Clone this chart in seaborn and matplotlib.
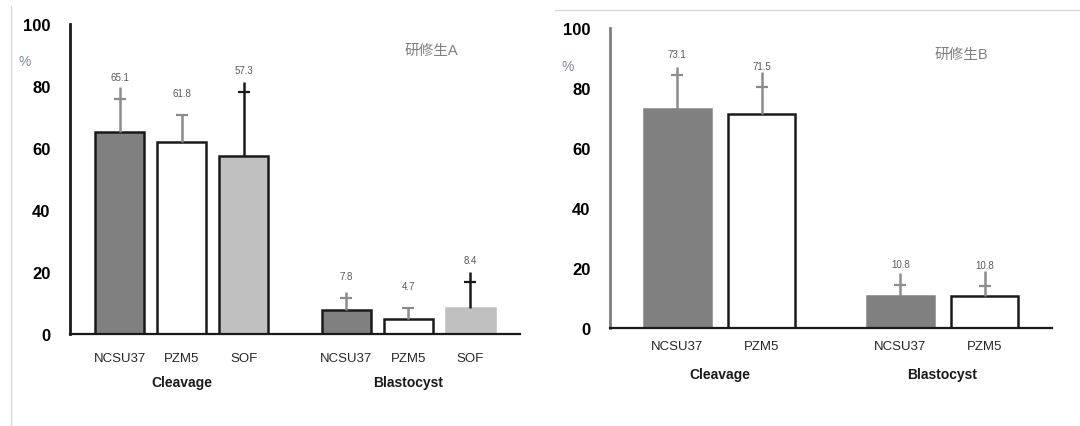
import numpy as np
import pandas as pd
import matplotlib
matplotlib.use("Agg")
import matplotlib.pyplot as plt
import matplotlib.transforms as mtransforms
from matplotlib.lines import Line2D
import seaborn as sns

# ---- data ----
stages_a = ["Cleavage", "Cleavage", "Cleavage", "Blastocyst", "Blastocyst", "Blastocyst"]
media_a = ["NCSU37", "PZM5", "SOF", "NCSU37", "PZM5", "SOF"]
mean_a = [65.1, 61.8, 57.3, 7.8, 4.7, 8.4]
labels_a = ["65.1", "61.8", "57.3", "7.8", "4.7", "8.4"]
cap_a = [75.8, 70.6, 78.0, 11.6, 8.4, 16.8]
top_a = [79.7, 70.6, 81.3, 13.5, 8.4, 20.0]

stages_b = ["Cleavage", "Cleavage", "Blastocyst", "Blastocyst"]
media_b = ["NCSU37", "PZM5", "NCSU37", "PZM5"]
mean_b = [73.1, 71.5, 10.8, 10.8]
labels_b = ["73.1", "71.5", "10.8", "10.8"]
cap_b = [84.3, 80.3, 14.3, 14.0]
top_b = [87.0, 85.3, 18.3, 19.0]

fill = {"NCSU37": "#808080", "PZM5": "#ffffff", "SOF": "#c0c0c0"}

sns.set_style("white")
plt.rcParams["font.family"] = ["Liberation Sans", "Noto Sans CJK JP", "DejaVu Sans"]


def draw_panel(ax, stages, media, means, labels, caps, tops, edges, err_colors, spine_color,
               xpad, title, title_xy, pct_xy, fig):
    n = len(dict.fromkeys(media))
    group_idx = pd.Series(stages).factorize()[0]
    med_idx = [list(dict.fromkeys(media)).index(m) for m in media]
    pos = [g * (n + 0.65) + i for g, i in zip(group_idx, med_idx)]
    df = pd.DataFrame({"pos": pos, "medium": media, "stage": stages, "mean": means})

    sns.barplot(data=df, x="pos", y="mean", native_scale=True, color="#808080",
                width=0.79, errorbar=None, ax=ax, linewidth=1.8, saturation=1)
    bars = sorted(ax.patches, key=lambda p: p.get_x())
    for bar, m, e in zip(bars, media, edges):
        bar.set_facecolor(fill[m])
        bar.set_edgecolor("#1a1a1a" if e else fill[m])

    for x, mu, c, t, col, lab in zip(pos, means, caps, tops, err_colors, labels):
        ax.plot([x, x], [mu, t], color=col, lw=1.8, solid_capstyle="butt", zorder=3)
        ax.plot([x], [c], marker="_", ms=9, mew=1.6, color=col, zorder=3)
        ax.text(x, c + 7, lab, ha="center", va="center", fontsize=7, color="#595959")

    ax.set_xlim(min(pos) - 0.8, max(pos) + 0.8)
    ax.set_ylim(0, 100)
    ax.set_yticks(range(0, 101, 20))
    ax.set_xticks(pos)
    ax.set_xticklabels(media, fontsize=9.5, color="#262626")
    ax.tick_params(axis="x", length=0, pad=xpad)
    ax.tick_params(axis="y", length=6, width=1.2, direction="out", pad=8, color=spine_color)
    for t in ax.get_yticklabels():
        t.set_fontweight("bold")
        t.set_fontsize(12)
        t.set_color("#000000")
    ax.set_xlabel("")
    ax.set_ylabel("")
    sns.despine(ax=ax)
    ax.spines["left"].set_color(spine_color)
    ax.spines["left"].set_linewidth(2)
    ax.spines["bottom"].set_color("#1a1a1a")
    ax.spines["bottom"].set_linewidth(1.6)

    trans = mtransforms.blended_transform_factory(ax.transData, ax.transAxes)
    for g in df["stage"].unique():
        xs = df.loc[df["stage"] == g, "pos"]
        ax.text(xs.mean(), -0.155, g, transform=trans, ha="center", va="center",
                fontsize=10, fontweight="bold", color="#1a1a1a")

    fig.text(title_xy[0] / 1080, 1 - title_xy[1] / 427, title, ha="center", va="center",
             fontsize=10.5, color="#7f7f7f")
    fig.text(pct_xy[0] / 1080, 1 - pct_xy[1] / 427, "%", ha="center", va="center",
             fontsize=10, color="#7a8ca3")


fig = plt.figure(figsize=(10.8, 4.27), dpi=100)
ax_a = fig.add_axes([70 / 1080, 1 - 335 / 427, 450 / 1080, 310 / 427])
ax_b = fig.add_axes([610 / 1080, 1 - 329 / 427, 442 / 1080, 300 / 427])

draw_panel(ax_a, stages_a, media_a, mean_a, labels_a, cap_a, top_a,
           [True, True, True, True, True, False],
           ["#8c8c8c", "#8c8c8c", "#1a1a1a", "#8c8c8c", "#8c8c8c", "#1a1a1a"],
           "#1a1a1a", 13, "研修生A", (431, 51), (25, 62), fig)
draw_panel(ax_b, stages_b, media_b, mean_b, labels_b, cap_b, top_b,
           [False, True, False, True],
           ["#8c8c8c", "#8c8c8c", "#8c8c8c", "#8c8c8c"],
           "#7f7f7f", 9, "研修生B", (961, 55), (568, 67), fig)

# panel frames from the screenshot
fig.add_artist(Line2D([10.5 / 1080, 10.5 / 1080], [0, 1 - 7 / 427], color="#d9d9d9", lw=1))
fig.add_artist(Line2D([555 / 1080, 1], [1 - 11 / 427, 1 - 11 / 427], color="#d9d9d9", lw=1))

fig.savefig("out.png", dpi=100)
